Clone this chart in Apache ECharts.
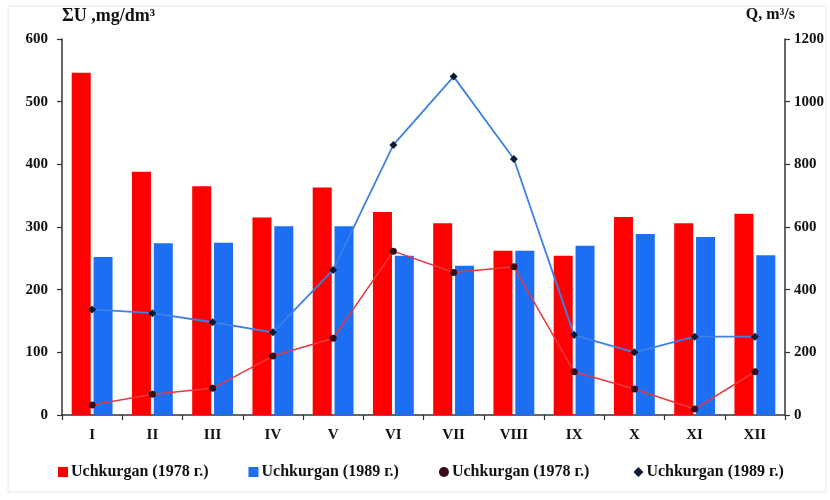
<!DOCTYPE html>
<html>
<head>
<meta charset="utf-8">
<script src="https://cdn.jsdelivr.net/npm/echarts@6/dist/echarts.min.js"></script>
<style>
  html, body { margin: 0; padding: 0; background: #fff; }
  #chart { width: 830px; height: 500px; }
</style>
</head>
<body>
<div id="chart"></div>
<script>
!function () {
    const months = ['I', 'II', 'III', 'IV', 'V', 'VI', 'VII', 'VIII', 'IX', 'X', 'XI', 'XII'];
    // ΣU, mg/dm3 (bars, left axis)
    const u1978 = [546, 388, 365, 315, 363, 324, 306, 262, 254, 316, 306, 321];
    const u1989 = [252, 274, 275, 301, 301, 254, 238, 262, 270, 289, 284, 255];
    // Q, m3/s (lines, right axis)
    const q1978 = [32, 66, 85, 188, 245, 523, 455, 473, 138, 83, 19, 138];
    const q1989 = [337, 325, 296, 264, 463, 862, 1080, 817, 255, 200, 250, 250];

    const font = '"Liberation Serif", "Times New Roman", serif';
    const axisLine = { show: true, lineStyle: { color: '#333', width: 1.5 } };
    const tick = { show: true, length: 5, lineStyle: { color: '#333', width: 1.2 } };

    let option = {
        backgroundColor: '#fff',
        textStyle: { fontFamily: font },
        graphic: [{
            type: 'rect',
            shape: { x: 8, y: 6, width: 818, height: 486 },
            style: { fill: 'none', stroke: '#e6e6e6', lineWidth: 1 },
            silent: true
        }],
        grid: { left: 62, right: 45, top: 39, bottom: 85 },
        legend: {
            top: 459,
            left: 53,
            itemGap: 40,
            itemWidth: 10,
            itemHeight: 10,
            textStyle: { fontFamily: font, fontWeight: 'bold', fontSize: 16, color: '#111', padding: [0, 0, 0, -2] },
            data: [
                { name: 'Uchkurgan (1978 г.)', icon: 'rect' },
                { name: 'Uchkurgan (1989 г.)', icon: 'rect' },
                { name: 'Uchkurgan (1978 г.) ', icon: 'circle' },
                { name: 'Uchkurgan (1989 г.) ', icon: 'diamond' }
            ]
        },
        xAxis: {
            type: 'category',
            data: months,
            axisLine: axisLine,
            axisTick: tick,
            axisLabel: { margin: 13, fontFamily: font, fontWeight: 'bold', fontSize: 15, color: '#111' }
        },
        yAxis: [
            {
                type: 'value',
                name: 'ΣU ,mg/dm³',
                nameGap: 14,
                nameTextStyle: { fontFamily: font, fontWeight: 'bold', fontSize: 18, color: '#111', align: 'left' },
                min: 0, max: 600, interval: 100,
                axisLine: axisLine,
                axisTick: tick,
                splitLine: { show: false },
                axisLabel: { margin: 14, fontFamily: font, fontWeight: 'bold', fontSize: 15, color: '#111' }
            },
            {
                type: 'value',
                name: 'Q, m³/s',
                nameGap: 16,
                nameTextStyle: { fontFamily: font, fontWeight: 'bold', fontSize: 16, color: '#111', align: 'right', padding: [0, -10, 0, 0] },
                min: 0, max: 1200, interval: 200,
                position: 'right',
                axisLine: axisLine,
                axisTick: tick,
                splitLine: { show: false },
                axisLabel: {
                    margin: 9, fontFamily: font, fontWeight: 'bold', fontSize: 15, color: '#111',
                    formatter: function (v) { return String(v); }
                }
            }
        ],
        series: [
            {
                name: 'Uchkurgan (1978 г.)',
                type: 'bar',
                data: u1978,
                barWidth: 19,
                barGap: '15%',
                itemStyle: { color: '#ff0000' }
            },
            {
                name: 'Uchkurgan (1989 г.)',
                type: 'bar',
                data: u1989,
                barWidth: 19,
                barGap: '15%',
                itemStyle: { color: '#1c6ef2' }
            },
            {
                name: 'Uchkurgan (1978 г.) ',
                type: 'line',
                yAxisIndex: 1,
                data: q1978,
                symbol: 'circle',
                symbolSize: 7,
                lineStyle: { color: '#e8383d', width: 1.5 },
                itemStyle: { color: '#3a0d14' }
            },
            {
                name: 'Uchkurgan (1989 г.) ',
                type: 'line',
                yAxisIndex: 1,
                data: q1989,
                symbol: 'diamond',
                symbolSize: 8,
                lineStyle: { color: '#3f80e6', width: 1.8 },
                itemStyle: { color: '#0c1a33' }
            }
        ]
    };

    let myChart = echarts.init(document.getElementById('chart'));
    myChart && myChart.setOption(option);
}()
</script>
</body>
</html>
